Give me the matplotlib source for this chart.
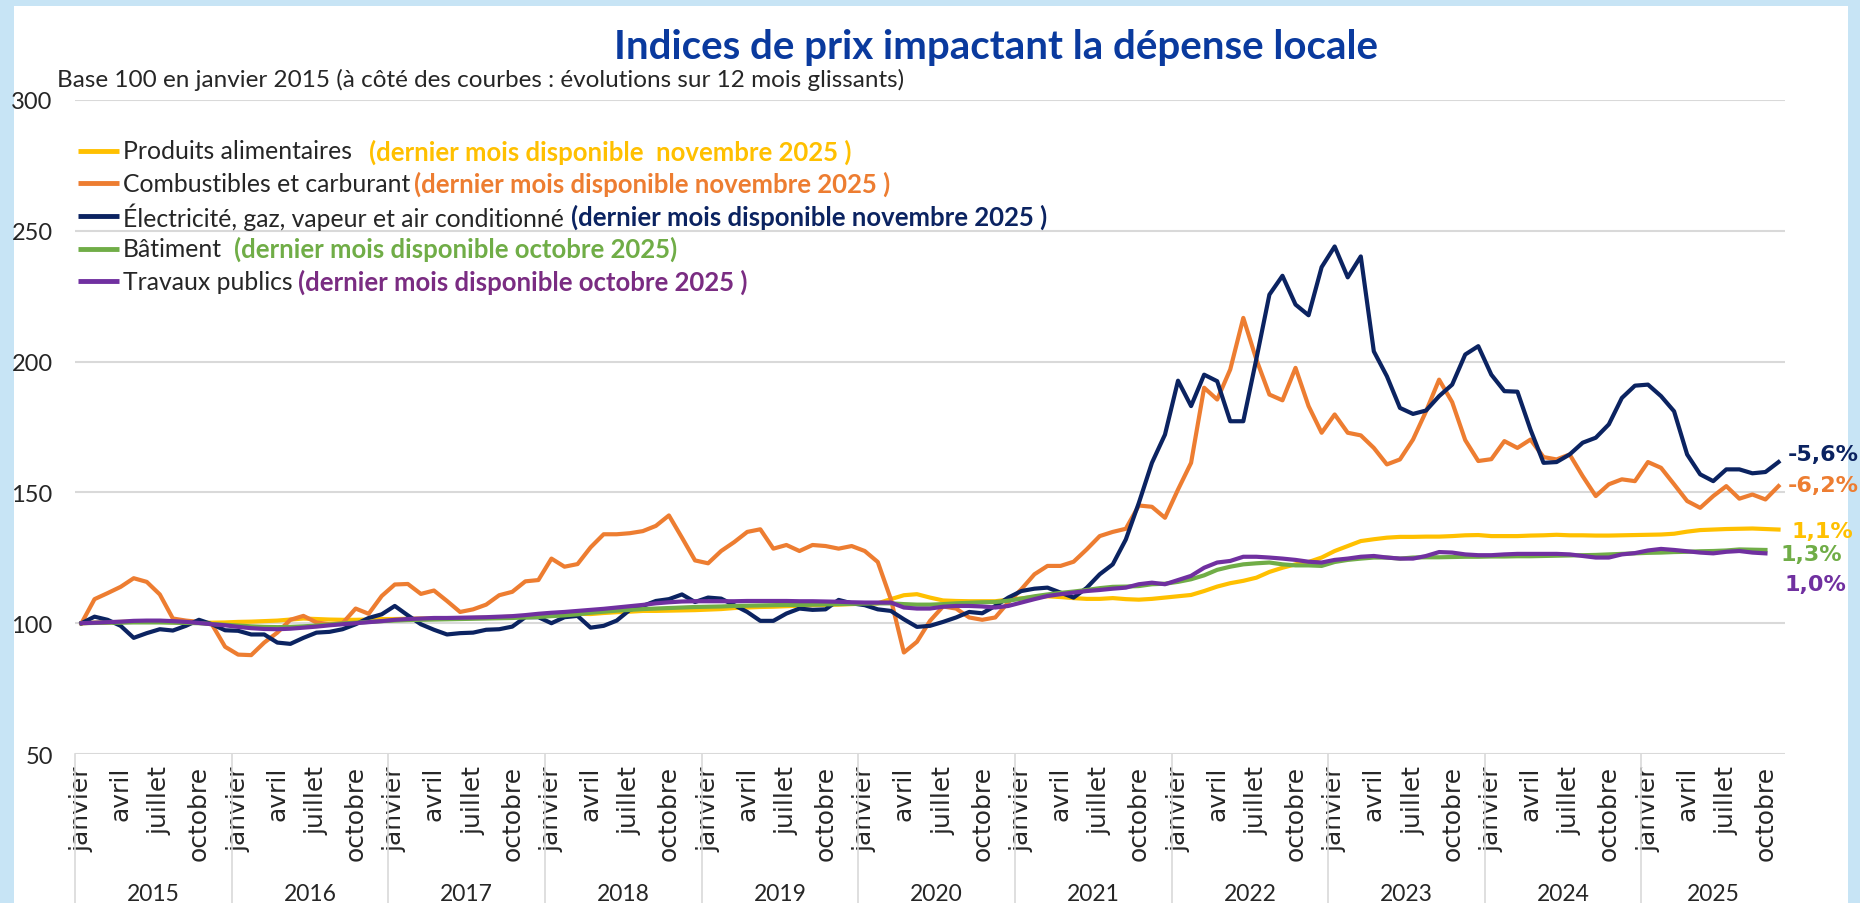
import numpy as np
from matplotlib import pyplot as plt
from matplotlib.patches import Rectangle

plt.rcParams['font.family'] = ['Lato', 'DejaVu Sans']

years = [str(y) for y in range(2015, 2026)]
quarter_months = ['janvier', 'avril', 'juillet', 'octobre']

# base 100 en janvier 2015, une ligne par année
produits_alimentaires = [
    100, 100.2, 100.3, 100.5, 100.6, 100.6, 100.5, 100.4, 100.3, 100.2, 100.2, 100.3,
    100.5, 100.6, 100.8, 101, 101.4, 101.8, 101.6, 101.4, 101.3, 101.3, 101.4, 101.6,
    101.6, 101.7, 101.8, 101.8, 101.8, 101.9, 102, 102.1, 102.3, 102.5, 102.7, 102.8,
    103.2, 103.4, 103.6, 103.5, 103.9, 104.2, 104.4, 104.7, 104.7, 104.8, 104.9, 105,
    105.2, 105.4, 105.8, 106, 106.2, 106.3, 106.5, 106.7, 106.9, 107, 107.1, 107.3,
    107.5, 107.6, 109.2, 110.7, 111.1, 109.8, 108.7, 108.5, 108.4, 108.4, 108.4, 109,
    109.5, 110, 110.3, 110, 109.6, 109.3, 109.3, 109.6, 109.2, 109, 109.3, 109.8,
    110.3, 110.8, 112.3, 114, 115.3, 116.2, 117.4, 119.6, 121.2, 122.5, 123.4, 125.1,
    127.6, 129.5, 131.4, 132.1, 132.7, 133, 133, 133.1, 133.1, 133.3, 133.6, 133.7,
    133.3, 133.3, 133.3, 133.5, 133.6, 133.8, 133.6, 133.6, 133.5, 133.5, 133.6, 133.7,
    133.8, 133.9, 134.2, 135, 135.6, 135.8, 136, 136.1, 136.2, 136, 135.8,
]
combustibles = [
    100, 109.2, 111.5, 113.9, 117.2, 115.8, 111, 101.8, 101, 100.5, 99.5, 91,
    88, 87.8, 92.6, 96.4, 101.3, 102.8, 100.3, 99.6, 100, 105.6, 103.6, 110.4,
    114.8, 115, 111.2, 112.5, 108.5, 104.3, 105.3, 107.1, 110.7, 112, 116, 116.5,
    124.7, 121.6, 122.6, 129, 134, 134, 134.4, 135.2, 137.2, 141.2, 132.7, 124,
    122.9, 127.6, 131, 134.9, 135.9, 128.5, 129.9, 127.6, 129.9, 129.5, 128.5, 129.5,
    127.6, 123.4, 109.2, 88.8, 92.9, 100.9, 106.4, 105.6, 102.2, 101.3, 102.2, 108,
    113, 118.7, 121.9, 121.9, 123.5, 128.2, 133.3, 134.9, 136.1, 145, 144.5, 140.3,
    151.1, 161.3, 190, 185.5, 197, 216.7, 200.8, 187.4, 185.2, 197.6, 183, 172.8,
    179.8, 172.8, 171.8, 167, 160.7, 162.6, 170.2, 181, 193.1, 184.5, 170, 162,
    162.7, 169.6, 167, 170.2, 163.5, 162.6, 164.5, 156.2, 148.6, 153.1, 155, 154.3,
    161.6, 159.4, 153.1, 146.7, 144.1, 148.6, 152.4, 147.6, 149.2, 147.3, 152.4,
]
electricite = [
    100, 102.5, 101.3, 99, 94.4, 96.2, 97.7, 97.2, 99, 101.3, 99.6, 97.3,
    97.1, 95.7, 95.7, 92.6, 92.1, 94.4, 96.4, 96.7, 97.7, 99.6, 102, 103.4,
    106.6, 103, 99.6, 97.5, 95.7, 96.2, 96.4, 97.5, 97.7, 98.7, 102.3, 102.3,
    100, 102.3, 102.8, 98.3, 99, 101, 105.1, 106.6, 108.5, 109.2, 111, 108.1,
    109.8, 109.4, 106.9, 104.3, 100.9, 100.9, 103.7, 105.6, 105.1, 105.3, 108.9, 107.6,
    106.9, 105.3, 104.7, 101.5, 98.6, 99, 100.5, 102.2, 104.3, 103.8, 106.6, 109.8,
    112.3, 113.2, 113.6, 111.7, 109.8, 113.5, 118.7, 122.5, 132, 146, 161.3, 172.1,
    192.7, 183, 195, 192.5, 177.2, 177.2, 201, 225.6, 232.8, 221.8, 217.7, 236.1,
    244, 232.2, 240.2, 203.9, 194.4, 182.3, 180, 181.3, 186.8, 191.2, 202.7, 205.9,
    195, 188.7, 188.5, 174, 161.3, 161.6, 164.5, 169, 170.9, 176, 186.1, 190.8,
    191.2, 186.8, 181, 164.5, 156.9, 154.3, 158.8, 158.8, 157.3, 157.8, 161.6,
]
batiment = [
    100, 100.1, 100.2, 100.2, 100.3, 100.3, 100.3, 100.2, 100.1, 100, 99.7, 99.4,
    99.1, 98.8, 98.6, 98.5, 98.6, 98.8, 99.1, 99.5, 99.9, 100.2, 100.5, 100.8,
    101, 101.2, 101.3, 101.4, 101.5, 101.6, 101.7, 101.8, 101.9, 102, 102.2, 102.4,
    102.7, 103, 103.4, 104, 104.4, 104.8, 105.1, 105.4, 105.6, 105.8, 106, 106.2,
    106.3, 106.4, 106.6, 106.7, 106.8, 106.9, 107, 107, 107.1, 107.2, 107.3, 107.4,
    107.5, 107.6, 107.6, 107.3, 107.1, 107.1, 107.3, 107.6, 107.8, 108, 108.1, 108.6,
    109.4, 110.3, 111, 111.6, 112.1, 112.7, 113.4, 113.9, 114, 114.2, 114.9, 115.1,
    115.8, 116.8, 118.3, 120.4, 121.6, 122.5, 122.9, 123.2, 122.5, 122.1, 122.1, 121.9,
    123.4, 124.2, 124.7, 125.1, 125.1, 124.7, 125.1, 125.2, 125.2, 125.3, 125.4, 125.4,
    125.5, 125.5, 125.6, 125.6, 125.7, 125.8, 125.9, 126, 126.1, 126.3, 126.5, 126.7,
    126.9, 127, 127.2, 127.3, 127.5, 127.6, 127.8, 128.2, 128.1, 128,
]
travaux_publics = [
    100, 100.2, 100.4, 100.6, 100.9, 101, 101, 100.8, 100.5, 100.1, 99.6, 99.2,
    98.6, 98.1, 97.8, 97.7, 97.9, 98.3, 98.7, 99.2, 99.6, 100, 100.4, 100.8,
    101.3, 101.6, 101.8, 102, 102, 102.1, 102.2, 102.3, 102.5, 102.7, 103.1, 103.6,
    104, 104.3, 104.7, 105.1, 105.5, 106, 106.5, 107, 107.6, 108, 108.3, 108.4,
    108.4, 108.4, 108.4, 108.5, 108.5, 108.5, 108.5, 108.4, 108.4, 108.3, 108.2, 108,
    107.9, 107.9, 107.9, 106, 105.6, 105.6, 106.3, 106.6, 106.6, 106.4, 106, 106.6,
    107.9, 109.2, 110.4, 111.1, 111.7, 112.3, 112.7, 113.2, 113.6, 114.9, 115.5, 114.9,
    116.5, 118.1, 121.2, 123.2, 123.8, 125.4, 125.4, 125.1, 124.7, 124.2, 123.5, 123.2,
    124.2, 124.7, 125.4, 125.7, 125.1, 124.7, 124.7, 125.7, 127.2, 127, 126.3, 126,
    126, 126.3, 126.5, 126.5, 126.5, 126.5, 126.3, 125.7, 125.1, 125.1, 126.3, 126.8,
    127.8, 128.4, 128, 127.5, 127, 126.7, 127.3, 127.6, 127, 126.7,
]

names = ['Produits alimentaires', 'Combustibles et carburant',
         'Électricité, gaz, vapeur et air conditionné', 'Bâtiment', 'Travaux publics']
notes = ['(dernier mois disponible  novembre 2025 )', '(dernier mois disponible novembre 2025 )',
         '(dernier mois disponible novembre 2025 )', '(dernier mois disponible octobre 2025)',
         '(dernier mois disponible octobre 2025 )']
evolutions = ['1,1%', '-6,2%', '-5,6%', '1,3%', '1,0%']

series = [produits_alimentaires, combustibles, electricite, batiment, travaux_publics]
colors = ['#ffc000', '#ed7d31', '#0b2361', '#70ad47', '#7030a0']
note_colors = ['#ffc000', '#ed7d31', '#0b2361', '#70ad47', '#7a2c82']
note_gaps = [12, 3, 5, 9, 4]  # espace entre libellé et mention, en points
label_offsets = [(9, -1), (7, 1), (7, 6), (11, -3), (14, -22)]

fig = plt.figure(figsize=(18.6, 9.04), dpi=100, facecolor='#c7e4f5')
fig.patches.append(Rectangle((14 / 1860, 0), 1834 / 1860, 897 / 904, transform=fig.transFigure,
                             facecolor='white', edgecolor='none', zorder=-1))
ax = fig.add_axes([0.0403, 0.1648, 0.9194, 0.7235])
ax.set_facecolor('white')

for values, color in zip(series, colors):
    ax.plot(np.arange(len(values)), values, color=color, lw=3, solid_joinstyle='round')

n_months = len(produits_alimentaires)
ticks = [m for m in range(n_months) if m % 3 == 0]
ax.set_xticks(ticks)
ax.set_xticklabels([quarter_months[(m % 12) // 3] for m in ticks], rotation=90,
                   fontsize=18, family='DejaVu Sans', color='#262626')
ax.tick_params(axis='x', length=0, pad=8)
ax.set_xlim(-0.5, n_months - 0.5)
ax.set_ylim(50, 300)
ax.set_yticks(range(50, 301, 50))
ax.tick_params(axis='y', length=0, pad=16, labelsize=17, labelcolor='#262626')
ax.yaxis.grid(True, color='#d9d9d9', lw=1.5)
ax.set_axisbelow(True)
for spine in ax.spines.values():
    spine.set_visible(False)

# séparateurs et libellés des années sous l'axe
trans = ax.get_xaxis_transform()
for k, year in enumerate(years):
    start = 12 * k - 0.5
    end = min(start + 12, n_months - 0.5)
    ax.plot([start, start], [0, -0.23], transform=trans, color='#d9d9d9', lw=1.2, clip_on=False)
    ax.text((start + end) / 2, -0.214, year, transform=trans, ha='center', va='center',
            fontsize=16.5, color='#262626')

# légende manuelle
for k, (name, color, note, note_color, gap) in enumerate(zip(names, colors, notes, note_colors, note_gaps)):
    y = 0.922 - k * 0.0497
    ax.plot([0.002, 0.026], [y, y], transform=ax.transAxes, color=color, lw=3.5, solid_capstyle='butt')
    label = ax.text(0.028, y, name, transform=ax.transAxes, va='center', fontsize=17.8, color='#262626')
    ax.annotate(note, xy=(1, 0.5), xycoords=label, xytext=(gap, 0), textcoords='offset points',
                va='center', fontsize=18.5, fontweight='bold', color=note_color)

# évolutions sur 12 mois au bout des courbes
for values, color, text, offset in zip(series, colors, evolutions, label_offsets):
    ax.annotate(text, xy=(len(values) - 1, values[-1]), xytext=offset, textcoords='offset points',
                ha='left', va='center', fontsize=16, fontweight='bold', color=color,
                family='DejaVu Sans', annotation_clip=False)

fig.text(0.5355, 0.948, 'Indices de prix impactant la dépense locale', ha='center', va='center',
         fontsize=29, fontweight='bold', color='#0a3a9e')
fig.text(0.0306, 0.9115, 'Base 100 en janvier 2015 (à côté des courbes : évolutions sur 12 mois glissants)',
         ha='left', va='center', fontsize=17.5, color='#262626')

fig.savefig('out.png', dpi=100, facecolor=fig.get_facecolor())
